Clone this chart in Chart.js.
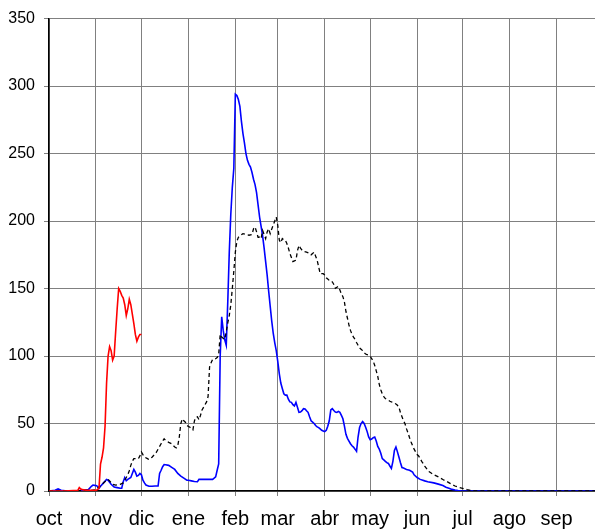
<!DOCTYPE html>
<html>
<head>
<meta charset="utf-8">
<script src="https://cdn.jsdelivr.net/npm/chart.js@4/dist/chart.umd.min.js"></script>
<style>
html,body{margin:0;padding:0;background:#fff;overflow:hidden;}
canvas{display:block;}
</style>
</head>
<body>
<canvas id="c" width="595" height="531"></canvas>
<script>
// Month start positions (days since 1 Oct) and labels
const monthTicks = [0,31,61,92,123,151,182,212,243,273,304,335];
const monthLabels = ['oct','nov','dic','ene','feb','mar','abr','may','jun','jul','ago','sep'];
const yTicks = [0,50,100,150,200,250,300,350];

// Red series
const redDays = [0,10,19,20,21,22,25,28,31,32,33,34,35,36,37,38,39,40,41,42,43,44,45,46,47,48,49,50,51,52,53,54,55,56,57,58,59,60,61];
const redVals = [0,0,0.5,2.5,1.5,1,0.5,0.5,0.5,1,2,20,25,32,48,80,100,107,104,97,100,118,135,150,148,145,143,138,130,135,142,138,131,124,116,111,114,116,116];

// Blue series
const blueDays = [0,4,6,8,12,20,26,28,29,31,32,33,34,36,38,39,41,43,45,47,48,49,50,51,52,54,55,56,57,58,59,60,61,62,63,64,66,68,70,72,73,74,75,76,77,79,81,83,85,87,89,91,92,94,96,98,99,102,104,106,108,109,110,111,112,113,114,115,116,117,118,119,120,121,122,123,124,125,126,127,128,129,130,131,132,133,134,135,136,137,138,139,140,141,142,143,144,145,146,147,148,149,150,151,152,153,154,155,156,157,158,159,160,161,162,163,164,165,166,167,168,169,170,171,172,173,174,175,176,177,178,179,180,181,182,183,184,185,186,187,188,189,190,191,192,193,194,195,196,197,198,199,200,201,202,203,204,205,206,207,208,209,210,211,212,213,214,215,216,217,218,219,220,221,222,223,224,225,226,227,228,229,230,231,232,233,234,236,238,240,241,243,245,248,250,254,257,260,262,264,266,268,270,272,275,360];
const blueVals = [0,0.5,1.5,0.5,0,0.3,1,3.5,4.4,4,3.5,2,3.5,6,8.5,8,5,3,2.5,2,2,6.9,10,7.6,8.6,10,13,16,14,11,11.5,13,12,8,6,4.4,3.5,3.5,3.7,3.7,13,15.4,18,19.6,19.5,19,17.5,16,13,11,9.5,8,8,7.5,7,6.9,8.6,8.6,8.6,8.6,8.6,9.5,10.5,15.4,20,100,129,119,112,108,140,177,205,225,239,294,293,290,285,274,265,258,250,245,242,240,236,231,227,221,212,203,196,189,180,170,160,148,137,126,117,110,104,96,87,80,76,72,71,71,68,66,65.7,64,63,65.7,62,58.3,58.5,59.5,61,60.8,59.5,58.3,55,52,51,50,48.5,47.5,47,46,45,44.5,44,45,48,52,60,61,59.6,58.5,58.3,59,58.3,56,53.5,48,42,39,37,35,33.5,32.5,31,29.4,40,47,50,51.5,50,47.3,44,40,38,38.5,39.5,40,37,33,31,28,24,23,22,21,20.4,18.5,16.7,22,30,32.6,29,25,21,17.4,17,16,15.4,14,12,10,8.6,7.5,6.9,6,5.1,4,2.8,2,1.2,0.7,0.3,0.1,0,0];

// Black dashed series
const blackDays = [
  0,10,20,28,31,33,35,37,39,40,
  42,44,47,49,50,51,52,53,54,55,
  56,58,59,60,61,62,63,65,66,68,
  70,71,72,74,75,76,77,79,81,83,
  84,85,86,87,88,89,90,91,93,94,
  95,96,97,98,99,100,101,102,103,104,
  105,106,107,108,110,111,112,113,114,116,
  117,118,119,120,121,122,123,124,125,126,
  128,130,132,134,135,136,137,138,139,140,
  141,142,143,144,145,146,147,148,149,150,
  151,152,153,154,155,156,157,158,159,160,
  161,162,163,164,165,166,167,168,170,172,
  173,174,175,176,177,178,179,180,181,182,
  183,184,185,186,187,188,189,190,191,192,
  193,194,195,196,197,198,199,200,201,202,
  203,204,205,206,207,208,209,210,211,212,
  213,214,215,216,217,218,219,220,221,222,
  223,224,225,226,227,228,229,230,231,232,
  233,234,235,236,237,238,239,240,241,242,
  243,244,245,246,247,248,249,250,251,252,
  254,257,260,262,265,268,271,273,276,279,
  282,290,360];
const blackVals = [
  0,0,0.3,0.5,1,3,5,7,8.6,7.5,
  5,4.4,5,6,8,10,12,15,19,22,
  24,24,24,26,28.9,27,25.2,24,23.3,25,
  27.5,28.9,31,35,37,38.7,37.5,36,35,32.6,
  32,33.6,40,50,53.5,52,51,48.5,47.3,46,
  45.3,52,54.6,55,52.7,56,60,62,64,66,
  70,92,95,97.6,98,98.8,101,116,114,112.3,
  118,124.5,130,138,150,163,177,185,188,189,
  190.7,190,189.5,190,194.3,195.6,192,188,188,187,
  193,190,187,192,194.3,190.7,194,197,200,203,
  196.8,186,184,187,186,185.8,183.3,180,176,173,
  170,170.5,171,178,182,180,178.5,177.5,177,176,
  175,176,177,174,171,166,161,161,161,160,
  158,157,156,155,155,153,150.2,151,151.5,149,
  146,144,140,133,128,123,119,116,114,112.3,
  110,108,106,105,104,102.4,101.5,101,100.5,100,
  98,96.3,93,89,85,79,75,72,70,68.5,
  68,67.4,66.5,66,65.7,65,64.5,63.5,62,58,
  55,52,49.8,46,43,39.5,36.3,33.5,31,29,
  27,26,24,22,20.4,18.5,17,15.5,14.2,13.5,
  12,10.5,8.5,7.4,5.5,3.7,2.5,2,1,0.2,
  0,0,0];

function pts(days, vals){ return days.map((d,i)=>({x:d,y:vals[i]})); }

const FONT = "'Liberation Sans', Arial, sans-serif";

new Chart(document.getElementById('c'), {
  type: 'line',
  data: {
    datasets: [
      {data: pts(redDays, redVals), borderColor:'#ff0000', borderWidth:1.6, pointRadius:0, tension:0, fill:false},
      {data: pts(blackDays, blackVals), borderColor:'#000000', borderWidth:1.3, borderDash:[4,3], pointRadius:0, tension:0, fill:false},
      {data: pts(blueDays, blueVals), borderColor:'#0000ff', borderWidth:1.6, pointRadius:0, tension:0, fill:false}
    ]
  },
  options: {
    responsive: false,
    animation: false,
    devicePixelRatio: 1,
    layout: {padding: {top: 15, right: 0, left: 0, bottom: 0}},
    plugins: {legend: {display:false}, tooltip: {enabled:false}},
    scales: {
      x: {
        type: 'linear',
        min: 0,
        max: 360.4,
        afterBuildTicks: s => { s.ticks = monthTicks.map(v => ({value: v})); },
        afterFit: s => { s.height = 40; },
        ticks: {
          autoSkip: false, maxRotation: 0, padding: 11,
          color: '#000',
          font: {family: FONT, size: 20},
          callback: v => { const i = monthTicks.indexOf(v); return i >= 0 ? monthLabels[i] : ''; }
        },
        grid: {color: '#808080', lineWidth: 1, tickLength: 5, tickColor: '#808080'},
        border: {display: true, color: '#000', width: 1.5}
      },
      y: {
        min: 0,
        max: 350,
        afterBuildTicks: s => { s.ticks = yTicks.map(v => ({value: v})); },
        afterFit: s => { s.width = 49; },
        ticks: {
          padding: 9,
          color: '#000',
          font: {family: FONT, size: 16}
        },
        grid: {color: '#808080', lineWidth: 1, tickLength: 5, tickColor: '#808080'},
        border: {display: true, color: '#000', width: 1.5}
      }
    }
  }
});
</script>
</body>
</html>
